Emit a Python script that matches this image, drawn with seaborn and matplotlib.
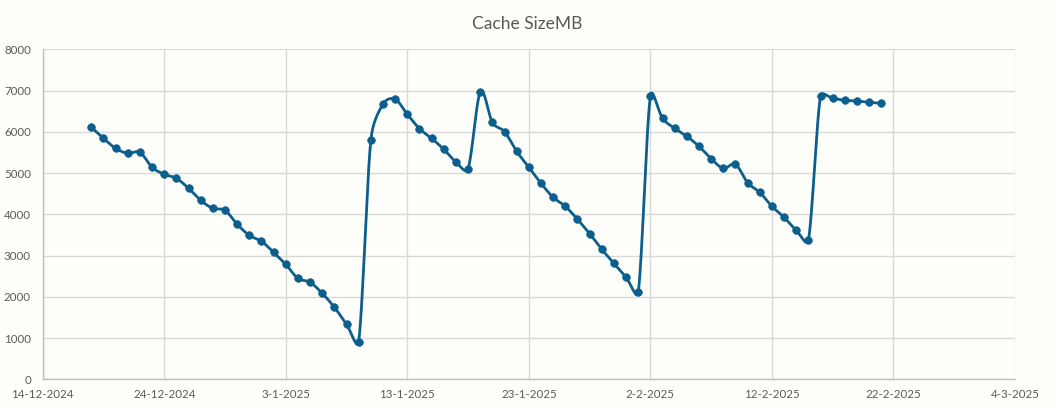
import numpy as np
import pandas as pd
import matplotlib
matplotlib.use('Agg')
import matplotlib.pyplot as plt
import matplotlib.dates as mdates
from matplotlib.ticker import FuncFormatter, MultipleLocator
import seaborn as sns

# Daily cache size readings, 18-12-2024 .. 21-2-2025
start_date = '2024-12-18'
cache_mb = [6110, 5842, 5600, 5479, 5503, 5139, 4970, 4873, 4630, 4339,
            4145, 4097, 3758, 3491, 3345, 3079, 2788, 2448, 2352, 2085,
            1745, 1333, 915,
            5800, 6670, 6790, 6424, 6076, 5842, 5576, 5268, 5106, 6958,
            6230, 6003, 5527, 5139, 4752, 4412, 4194, 3879, 3531, 3152,
            2812, 2473, 2109,
            6868, 6327, 6085, 5891, 5648, 5349, 5115, 5212, 4767, 4533,
            4194, 3927, 3612, 3370, 6868, 6812, 6764, 6747, 6715, 6691]
dates = pd.date_range(start_date, periods=len(cache_mb), freq='D')

df = pd.DataFrame({'Date': dates, 'Cache SizeMB': cache_mb})

blue = '#0C5F8D'
grey_text = '#595959'
grid_col = '#D9D9D9'
bg = '#FEFEFA'


# Excel-style smoothed line: Catmull-Rom bezier (1/6 tangents), with each
# control arm capped at half of the segment's on-screen length
def smooth_curve(x, y, sx, sy, n=30):
    p = np.column_stack([x, y]).astype(float)
    p_ext = np.vstack([p[0], p, p[-1]])
    scale = np.array([sx, sy])

    def dist(a, b):
        return np.hypot(*((b - a) * scale))

    t = np.linspace(0, 1, n)[:, None]
    out = []
    for i in range(len(p) - 1):
        p0, p1, p2, p3 = p_ext[i], p_ext[i + 1], p_ext[i + 2], p_ext[i + 3]
        d12 = dist(p1, p2)
        d02 = dist(p0, p2)
        d13 = dist(p1, p3)
        k1 = min(1 / 6, d12 / (2 * d02)) if d02 > 0 else 0
        k2 = min(1 / 6, d12 / (2 * d13)) if d13 > 0 else 0
        c1 = p1 + (p2 - p0) * k1
        c2 = p2 - (p3 - p1) * k2
        seg = ((1 - t) ** 3) * p1 + 3 * ((1 - t) ** 2) * t * c1 \
            + 3 * (1 - t) * t ** 2 * c2 + t ** 3 * p2
        out.append(seg if i == 0 else seg[1:])
    return np.vstack(out)


xnum = mdates.date2num(df['Date'])
# screen scale: ~12.15 px per day, ~41.25 px per 1000 MB
curve = smooth_curve(xnum, df['Cache SizeMB'].values, 12.15, 0.04125)
curve_df = pd.DataFrame({'x': mdates.num2date(curve[:, 0]), 'y': curve[:, 1]})

sns.set_style('white')
plt.rcParams['font.family'] = ['Lato', 'DejaVu Sans']

fig = plt.figure(figsize=(10.54, 4.11), dpi=100, facecolor=bg)
ax = fig.add_axes([0.0405, 0.0771, 0.9225, 0.8029])
ax.set_facecolor(bg)

sns.lineplot(data=curve_df, x='x', y='y', sort=False, estimator=None,
             color=blue, linewidth=2.0, ax=ax, zorder=3)
sns.scatterplot(data=df, x='Date', y='Cache SizeMB', color=blue, s=30,
                edgecolor=blue, linewidth=0.5, ax=ax, zorder=4)

ax.set_xlim(pd.Timestamp('2024-12-14'), pd.Timestamp('2025-03-04'))
ax.set_ylim(0, 8000)
ax.yaxis.set_major_locator(MultipleLocator(1000))
ax.set_xticks(pd.date_range('2024-12-14', '2025-03-04', freq='10D'))
ax.xaxis.set_major_formatter(FuncFormatter(
    lambda v, pos: '{d.day}-{d.month}-{d.year}'.format(d=mdates.num2date(v))))

ax.grid(True, color=grid_col, linewidth=1.0)
ax.set_axisbelow(True)
for side in ['top', 'right']:
    ax.spines[side].set_visible(False)
for side in ['left', 'bottom']:
    ax.spines[side].set_color('#BFBFBF')
    ax.spines[side].set_linewidth(1.0)

ax.tick_params(axis='both', length=0, labelsize=8.3, labelcolor=grey_text)
ax.tick_params(axis='y', pad=8.5)
ax.tick_params(axis='x', pad=7)
ax.set_xlabel('')
ax.set_ylabel('')

fig.suptitle('Cache SizeMB', x=0.5, y=0.962, fontsize=12.5, color=grey_text)

fig.savefig('out.png', dpi=100, facecolor=bg, edgecolor='#D9D9D9')
